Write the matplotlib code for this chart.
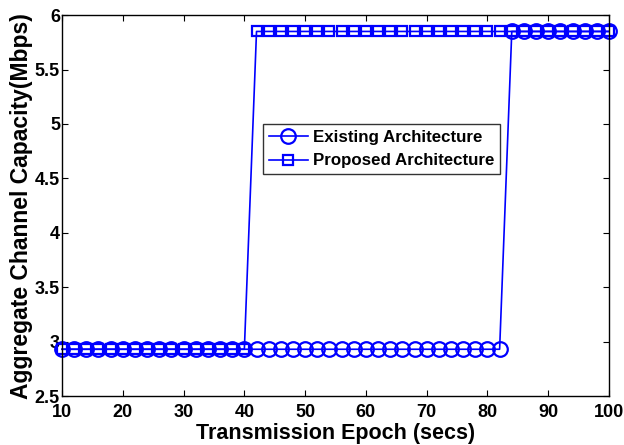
import numpy as np
import matplotlib
matplotlib.use("Agg")
import matplotlib.pyplot as plt

plt.rcParams['font.family'] = ['Liberation Sans', 'DejaVu Sans']
plt.rcParams['font.weight'] = 'bold'

epochs = list(range(10, 101, 2))
low_cap = 2.93
high_cap = 5.85
existing = [low_cap if e <= 82 else high_cap for e in epochs]
proposed = [low_cap if e <= 40 else high_cap for e in epochs]

x_ticks = [10, 20, 30, 40, 50, 60, 70, 80, 90, 100]
y_ticks = [2.5, 3, 3.5, 4, 4.5, 5, 5.5, 6]
y_ticklabels = ['2.5', '3', '3.5', '4', '4.5', '5', '5.5', '6']

fig = plt.figure(figsize=(6.24, 4.45), dpi=100)
ax = fig.add_axes([0.0994, 0.110, 0.8766, 0.856])

ax.plot(epochs, existing, color='#0000ff', marker='o', markersize=10.5,
        markerfacecolor='none', markeredgewidth=1.6, linewidth=1.2,
        label='Existing Architecture', clip_on=False)
ax.plot(epochs, proposed, color='#0000ff', marker='s', markersize=7.5,
        markerfacecolor='none', markeredgewidth=1.6, linewidth=1.2,
        label='Proposed Architecture', clip_on=False)

ax.set_xlim(10, 100)
ax.set_ylim(2.5, 6)
ax.set_xticks(x_ticks)
ax.set_yticks(y_ticks)
ax.set_yticklabels(y_ticklabels)
ax.tick_params(direction='in', length=4, width=0.8, top=True, right=True,
               labelsize=13)
ax.tick_params(axis='x', pad=6)
ax.tick_params(axis='y', pad=1.5)
for lab in ax.get_xticklabels() + ax.get_yticklabels():
    lab.set_fontweight('bold')
for s in ax.spines.values():
    s.set_linewidth(1.0)

ax.set_xlabel('Transmission Epoch (secs)', fontsize=15.5, fontweight='bold', labelpad=1)
ax.set_ylabel('Aggregate Channel Capacity(Mbps)', fontsize=16.5, fontweight='bold', labelpad=1)

leg = ax.legend(loc='upper left', bbox_to_anchor=(0.367, 0.714),
                prop={'weight': 'bold', 'size': 12.2}, frameon=True, fancybox=False,
                borderpad=0.35, labelspacing=0.5, handlelength=2.3, handletextpad=0.3,
                borderaxespad=0)
leg.get_frame().set_edgecolor('black')
leg.get_frame().set_linewidth(1.0)

fig.savefig('out.png', dpi=100)
